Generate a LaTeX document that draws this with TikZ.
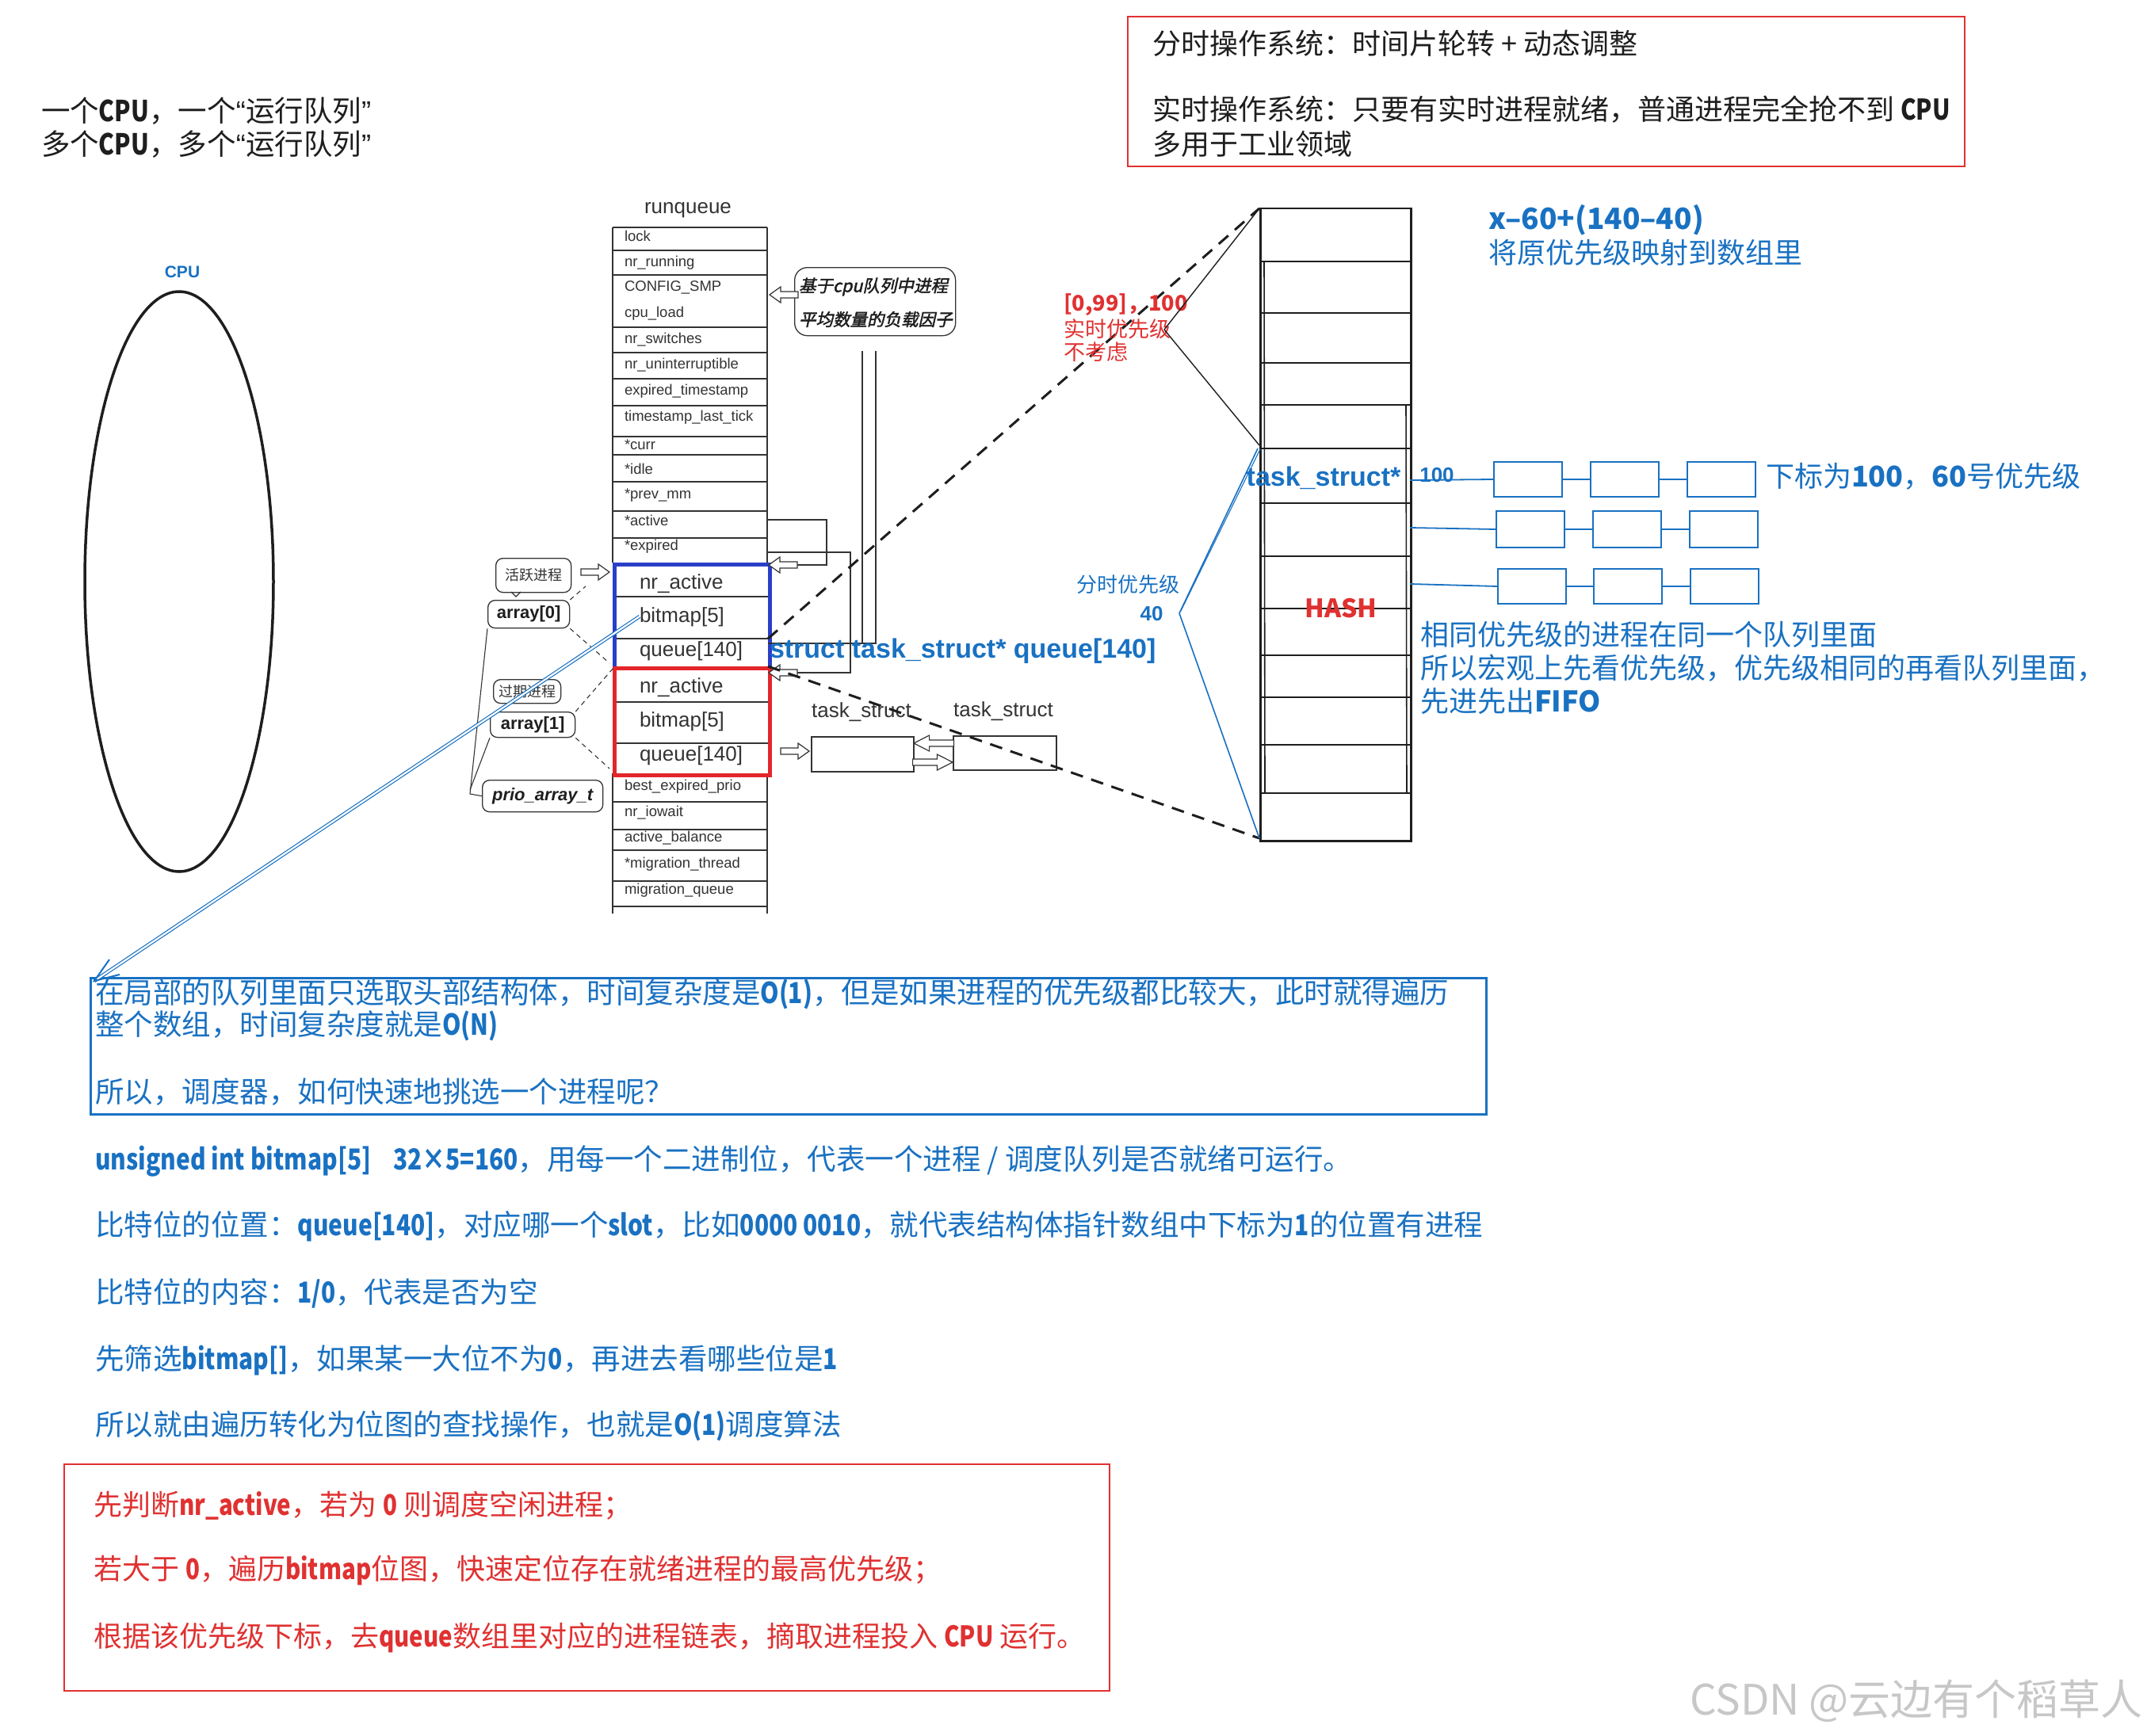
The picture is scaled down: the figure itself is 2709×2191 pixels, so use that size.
\documentclass[tikz,border=0pt]{standalone}
\usepackage{fontspec}
\setmainfont{Noto Sans CJK SC}[BoldFeatures={FakeStretch=0.82}]
\newfontfamily\notow{Noto Sans CJK SC}
\newfontfamily\arialf{Liberation Sans}
\newfontfamily\cjkslant[FakeSlant=0.22,FakeBold=2]{Noto Sans CJK SC}
\usetikzlibrary{shapes.geometric}
\definecolor{exblue}{HTML}{1971C2}
\definecolor{exred}{HTML}{E03131}
\definecolor{exblack}{HTML}{1E1E1E}
\definecolor{rqgray}{HTML}{333333}
\definecolor{boxblue}{HTML}{2A3FC8}
\definecolor{boxred}{HTML}{E3262B}
\newcommand{\fs}[1]{\fontsize{#1}{#1}\selectfont}
\newcommand{\myoq}{{\arialf “}}
\newcommand{\mycq}{{\arialf ”}}
\tikzset{
  txt/.style={anchor=west, inner sep=0, outer sep=0},
  rqtxt/.style={txt, font=\arialf\fs{18.5}, text=rqgray},
  fldtxt/.style={txt, font=\arialf\fs{26}, text=rqgray},
  rqline/.style={draw=rqgray, line width=1.6},
  thinline/.style={draw=rqgray, line width=1.1},
  thindash/.style={draw=rqgray, line width=1.1, dash pattern=on 6pt off 5pt},
  bubble/.style={draw=rqgray, rounded corners=9, line width=1.3, inner sep=0},
  bigdash/.style={draw=exblack, line width=3, dash pattern=on 16pt off 11pt},
  chainbox/.style={draw=exblue, line width=2, minimum width=86, minimum height=44, inner sep=0, anchor=north west},
  chainline/.style={draw=exblue, line width=1.8},
  bodytxt/.style={txt, font=\fs{36.5}, text=exblue},
  redtxt/.style={txt, font=\fs{36}, text=exred},
  hollowR/.pic={\draw[rqgray, line width=1.2, fill=white] (0,0) -- (-14,-10) -- (-14,-4) -- (-36,-4) -- (-36,4) -- (-14,4) -- (-14,10) -- cycle;},
}
\begin{document}
\begin{tikzpicture}[x=1pt,y=-1pt]
\useasboundingbox[fill=white] (0,0) rectangle (2709,2191);

% ---------- top-left text ----------
\node[txt, font=\fs{36.5}, text=exblack] (t1) at (52,140) {一个\textbf{CPU}，一个\myoq 运行队列\mycq};
\node[txt, font=\fs{36.5}, text=exblack] (t2) at (52,182) {多个\textbf{CPU}，多个\myoq 运行队列\mycq};

% ---------- top-right red box ----------
\node[draw=exred, line width=2, minimum width=1056, minimum height=189, anchor=north west, inner sep=0] (osbox) at (1422,20) {};
\node[txt, font=\fs{36}, text=exblack] (os1) at (1454,55) {分时操作系统：时间片轮转 + 动态调整};
\node[txt, font=\fs{36}, text=exblack] (os2) at (1454,138) {实时操作系统：只要有实时进程就绪，普通进程完全抢不到 \textbf{CPU}};
\node[txt, font=\fs{36}, text=exblack] (os3) at (1454,182) {多用于工业领域};

% ---------- CPU ellipse ----------
\node[ellipse, draw=exblack, line width=3.5, minimum width=238, minimum height=732, inner sep=0] (cpu) at (226,734) {};
\node[font=\arialf\bfseries\fs{21}, text=exblue, inner sep=0] (cpulbl) at (230,343) {CPU};

% ---------- runqueue ----------
\node[font=\arialf\fs{26}, text=rqgray, inner sep=0] (rqtitle) at (868,265) {runqueue};
\draw[rqline] (773,287) -- (773,710) (968,287) -- (968,710);
\foreach \yy in {287,316,347,413,445,478,512,551,574,608,645,679}
  \draw[rqline] (773,\yy) -- (968,\yy);
\draw[rqline] (773,976) -- (773,1153) (968,976) -- (968,1153);
\foreach \yy in {1012,1047,1073,1112,1144}
  \draw[rqline] (773,\yy) -- (968,\yy);
\foreach \lbl/\yy in {lock/298, nr\_running/332, CONFIG\_SMP/363, cpu\_load/396, nr\_switches/429, nr\_uninterruptible/461, expired\_timestamp/494, timestamp\_last\_tick/527, *curr/561, *idle/592, *prev\_mm/625, *active/657, *expired/690, best\_expired\_prio/993, nr\_iowait/1026, active\_balance/1058, *migration\_thread/1091, migration\_queue/1124}
  \node[rqtxt] at (788,\yy) {\lbl};

% active / expired arrays
\draw[rqline] (773,753) -- (969,753) (773,806) -- (969,806);
\draw[rqline] (773,886) -- (969,886) (773,938) -- (969,938);
\node[draw=boxblue, line width=4.5, minimum width=196, minimum height=131, anchor=north west, inner sep=0] (activebox) at (773,710) {};
\node[draw=boxred, line width=4.5, minimum width=196, minimum height=135, anchor=north west, inner sep=0] (expiredbox) at (773,841) {};
\node[fldtxt] (a1) at (807,737) {nr\_active};
\node[fldtxt] (a2) at (807,779) {bitmap[5]};
\node[fldtxt] (a3) at (807,822) {queue[140]};
\node[fldtxt] (e1) at (807,868) {nr\_active};
\node[fldtxt] (e2) at (807,911) {bitmap[5]};
\node[fldtxt] (e3) at (807,954) {queue[140]};

% left labels
\node[bubble, minimum width=95, minimum height=43, anchor=north west, font=\fs{18}, text=rqgray] (activelbl) at (625,704) {活跃进程};
\draw[thinline] (645,747) -- (651,753) -- (657,747);
\pic at (769,722) {hollowR};
\node[bubble, minimum width=103, minimum height=35, anchor=north west, font=\arialf\bfseries\fs{22}, text=exblack] (arr0) at (615,757) {array[0]};
\node[bubble, minimum width=85, minimum height=30, anchor=north west, font=\fs{18}, text=rqgray] (expiredlbl) at (622,857) {过期进程};
\node[bubble, minimum width=107, minimum height=32, anchor=north west, font=\arialf\bfseries\fs{22}, text=exblack] (arr1) at (618,898) {array[1]};
\node[bubble, minimum width=152, minimum height=40, anchor=north west, font=\arialf\bfseries\itshape\fs{22}, text=exblack] (prio) at (608,984) {prio\_array\_t};
\draw[thindash] (arr0.north east) -- (739,740);
\draw[thindash] (arr0.south east) -- (769,837);
\draw[thindash] (arr1.north east) -- (774,843);
\draw[thindash] (arr1.south east) -- (769,970);
\draw[thinline] (arr0.south west) -- (593,1002) -- (prio.west);
\draw[thinline] (arr1.south west) -- (593,997);

% right side connectors of runqueue
\draw[thinline] (968,656) -- (1043,656) -- (1043,713) -- (1004,713);
\pic[xscale=-1] at (970,713) {hollowR};
\draw[thinline] (968,697) -- (1073,697) -- (1073,849) -- (1004,849);
\pic[xscale=-1] at (970,849) {hollowR};
\draw[thinline] (1088,443) -- (1088,812);
\draw[thinline] (969,812) -- (1105,812) -- (1105,443);

% callout
\node[bubble, rounded corners=16, minimum width=203, minimum height=86, anchor=north west] (callout) at (1002,337) {};
\node[txt, font=\cjkslant\fs{21.5}, text=exblack] (c1) at (1008,362) {基于cpu队列中进程};
\node[txt, font=\cjkslant\fs{21.5}, text=exblack] (c2) at (1008,403) {平均数量的负载因子};
\pic[xscale=-1] at (971,372) {hollowR};

% middle task_struct list
\node[draw=rqgray, line width=1.6, minimum width=129, minimum height=44, anchor=north west, inner sep=0] (ts1) at (1023,929) {};
\node[draw=rqgray, line width=1.6, minimum width=130, minimum height=43, anchor=north west, inner sep=0] (ts2) at (1202,928) {};
\node[font=\arialf\fs{26}, text=rqgray, inner sep=0] (ts1l) at (1087,899) {task\_struct};
\node[font=\arialf\fs{26}, text=rqgray, inner sep=0] (ts2l) at (1266,898) {task\_struct};
\pic at (1021,948) {hollowR};
\pic[xscale=-1, xscale=1.4] at (1153,938) {hollowR};
\pic[xscale=1.4] at (1202,962) {hollowR};

% big dashed zoom lines
\coordinate (bigTL) at (1589,263);
\coordinate (bigBL) at (1589,1058);
\draw[bigdash] (969,806) -- (bigTL);
\draw[bigdash] (969,841) -- (bigBL);

\node[txt, font=\arialf\bfseries\fs{34}, text=exblue] (qdecl) at (971,822) {struct task\_struct* queue[140]};

% ---------- big priority array ----------
\node[draw=exblack, line width=2.5, minimum width=190, minimum height=798, anchor=north west, inner sep=0] (bigarr) at (1589,262) {};
\foreach \yy in {330,395,458,511,566,635,702,768,827,880,940,1001}
  \draw[exblack, line width=2.2] (1589,\yy) -- (1779,\yy);
\draw[exblack, line width=1.6] (1595,330) -- (1596,1001);
\draw[exblack, line width=1.6] (1774,511) -- (1775,1001);
\node[font=\notow\bfseries\fs{32}, text=exred, inner sep=0] (hash) at (1692,768) {HASH};
\node[font=\arialf\bfseries\fs{34}, text=exblue, inner sep=0] (tsptr) at (1670,603) {task\_struct*};

% realtime label + black bracket
\node[txt, font=\notow\bfseries\fs{27}, text=exred] (rt1) at (1342,385) {[0,99]，100};
\node[txt, font=\fs{27}, text=exred] (rt2) at (1342,415) {实时优先级};
\node[txt, font=\fs{27}, text=exred] (rt3) at (1342,444) {不考虑};
\coordinate (rtv) at (1469,416);
\draw[exblack, line width=1.4] (rtv) -- (bigTL);
\draw[exblack, line width=1.4] (rtv) -- (1589,562);

% time-sharing label + blue bracket
\node[txt, font=\fs{26}, text=exblue] (ts40a) at (1358,738) {分时优先级};
\node[font=\arialf\bfseries\fs{26}, text=exblue, inner sep=0] (ts40b) at (1453,775) {40};
\coordinate (tsv) at (1488,774);
\draw[exblue, line width=1.6] (tsv) -- (1587,566);
\draw[exblue, line width=1.1] (1490,771) -- (1590,567);
\draw[exblue, line width=1.6] (tsv) -- (bigBL);

% chains
\node[font=\arialf\bfseries\fs{26}, text=exblue, inner sep=0] (n100) at (1813,600) {100};
\node[chainbox] (r1b1) at (1884,582) {};
\node[chainbox] (r1b2) at (2006,582) {};
\node[chainbox] (r1b3) at (2128,582) {};
\node[chainbox, minimum height=46] (r2b1) at (1887,644) {};
\node[chainbox, minimum height=46] (r2b2) at (2009,644) {};
\node[chainbox, minimum height=46] (r2b3) at (2131,644) {};
\node[chainbox] (r3b1) at (1889,717) {};
\node[chainbox] (r3b2) at (2010,717) {};
\node[chainbox] (r3b3) at (2132,717) {};
\draw[chainline] (1779,606) -- (r1b1.west);
\draw[chainline] (1779,666) -- (r2b1.west);
\draw[chainline] (1779,737) -- (r3b1.west);
\draw[chainline] (r1b1) -- (r1b2) (r1b2) -- (r1b3);
\draw[chainline] (r2b1) -- (r2b2) (r2b2) -- (r2b3);
\draw[chainline] (r3b1) -- (r3b2) (r3b2) -- (r3b3);

\node[txt, font=\notow\bfseries\fs{37}, text=exblue] (formula) at (1878,278) {x–60+(140–40)};
\node[txt, font=\fs{36}, text=exblue] (map) at (1878,319) {将原优先级映射到数组里};
\node[txt, font=\notow\fs{36}, text=exblue] (idx) at (2228,601) {下标为\textbf{100}，\textbf{60}号优先级};
\node[txt, font=\fs{36}, text=exblue] (same1) at (1792,801) {相同优先级的进程在同一个队列里面};
\node[txt, font=\fs{36}, text=exblue] (same2) at (1792,843) {所以宏观上先看优先级，优先级相同的再看队列里面，};
\node[txt, font=\notow\fs{36}, text=exblue] (same3) at (1792,885) {先进先出\textbf{FIFO}};

% ---------- bottom-left blue note ----------
\node[draw=exblue, line width=2.5, minimum width=1761, minimum height=172, anchor=north west, inner sep=0] (note) at (113,1233) {};
\node[bodytxt] (n1) at (120,1255) {在局部的队列里面只选取头部结构体，时间复杂度是\textbf{O(1)}，但是如果进程的优先级都比较大，此时就得遍历};
\node[bodytxt] (n2) at (120,1295) {整个数组，时间复杂度就是\textbf{O(N)}};
\node[bodytxt] (n3) at (120,1378) {所以，调度器，如何快速地挑选一个进程呢？};
\coordinate (bmsrc) at (807,778);
\coordinate (noteTip) at (119,1238);
\draw[draw=exblue, line width=1.2, double=white, double distance=2.2] (bmsrc) -- (noteTip);
\draw[exblue, line width=2] (138,1211) -- (noteTip) -- (151,1230);

% ---------- blue explanation lines ----------
\node[bodytxt] (b1) at (120,1465) {\textbf{unsigned int bitmap[5]}\hspace{28pt}\textbf{32×5=160}，用每一个二进制位，代表一个进程 / 调度队列是否就绪可运行。};
\node[bodytxt] (b2) at (120,1548) {比特位的位置：\textbf{queue[140]}，对应哪一个\textbf{slot}，比如\textbf{0000 0010}，就代表结构体指针数组中下标为\textbf{1}的位置有进程};
\node[bodytxt] (b3) at (120,1632) {比特位的内容：\textbf{1/0}，代表是否为空};
\node[bodytxt] (b4) at (120,1717) {先筛选\textbf{bitmap[]}，如果某一大位不为\textbf{0}，再进去看哪些位是\textbf{1}};
\node[bodytxt] (b5) at (120,1800) {所以就由遍历转化为位图的查找操作，也就是\textbf{O(1)}调度算法};

% ---------- bottom red box ----------
\node[draw=exred, line width=2, minimum width=1319, minimum height=286, anchor=north west, inner sep=0] (algobox) at (80,1847) {};
\node[redtxt] (r1) at (118,1900) {先判断\textbf{nr\_active}，若为 \textbf{0} 则调度空闲进程；};
\node[redtxt] (r2) at (118,1982) {若大于 \textbf{0}，遍历\textbf{bitmap}位图，快速定位存在就绪进程的最高优先级；};
\node[redtxt] (r3) at (118,2067) {根据该优先级下标，去\textbf{queue}数组里对应的进程链表，摘取进程投入 \textbf{CPU} 运行。};

% ---------- watermark ----------
\node[txt, font=\fs{53}, text=black!22] (wm) at (2132,2147) {CSDN @云边有个稻草人};
\end{tikzpicture}
\end{document}
